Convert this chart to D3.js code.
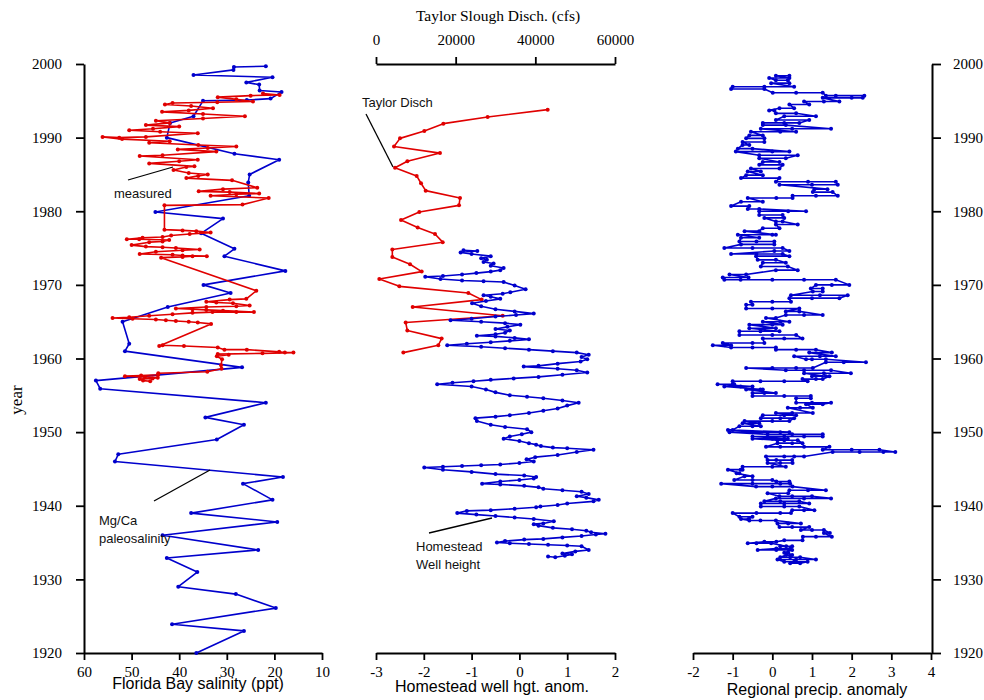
<!DOCTYPE html>
<html>
<head>
<meta charset="utf-8">
<script src="https://cdn.jsdelivr.net/npm/d3@7"></script>
<style>
  body { margin: 0; background: #fff; }
</style>
</head>
<body>
<div id="chart-container"></div>
<script>
// ---- data ----
const YEAR_TICKS = [1920, 1930, 1940, 1950, 1960, 1970, 1980, 1990, 2000];
const SAL_TICKS = [60, 50, 40, 30, 20, 10];
const WELL_TICKS = [-3, -2, -1, 0, 1, 2];
const PRECIP_TICKS = [-2, -1, 0, 1, 2, 3, 4];
const DISCH_TICKS = [0, 20000, 40000, 60000];

// Mg/Ca paleosalinity [year, ppt]
const paleoSal = [
  [1920.0,36.4],[1923.0,26.4],[1923.9,41.5],[1926.1,19.7],[1928.0,28.1],[1929.0,40.2],[1931.0,36.2],
  [1932.9,42.6],[1934.0,23.4],[1936.0,43.5],[1937.8,19.4],[1939.0,37.5],[1940.8,20.4],[1943.0,26.6],
  [1943.9,18.2],[1946.0,53.5],[1947.0,52.8],[1949.0,32.1],[1951.0,26.4],[1952.0,34.5],[1954.0,21.8],
  [1955.9,56.6],[1957.0,57.5],[1958.8,26.8],[1961.0,51.4],[1962.0,50.5],[1965.0,51.9],[1967.0,42.4],
  [1968.9,29.2],[1970.0,34.9],[1971.9,17.7],[1973.9,30.5],[1974.9,28.4],[1977.0,35.4],[1979.0,30.8],
  [1979.9,45.0],[1982.1,25.3],[1983.9,25.5],[1985.0,25.2],[1987.0,19.0],[1987.8,28.4],[1990.0,42.6],
  [1992.0,41.9],[1992.9,37.0],[1995.0,35.0],[1995.1,25.8],[1995.3,20.8],[1996.2,18.5],[1996.4,23.1],
  [1997.2,23.2],[1997.5,25.9],[1998.2,20.4],[1998.5,37.0],[1999.2,28.6],[1999.6,28.5],[1999.7,21.8]
];

// measured salinity [year, ppt]
const measSal = [
  [1956.9,46.1],[1957.0,47.6],[1957.2,48.3],[1957.3,45.6],[1957.4,44.5],[1957.5,47.2],[1957.6,51.4],
  [1957.7,48.0],[1957.8,44.4],[1958.0,44.4],[1958.2,34.1],[1958.6,31.1],[1959.1,31.2],[1959.9,31.0],
  [1960.3,32.1],[1960.5,29.6],[1960.6,31.9],[1960.7,22.5],[1960.8,16.0],[1960.8,17.8],[1960.9,19.0],
  [1961.2,25.8],[1961.2,30.5],[1961.5,31.9],[1961.7,39.0],[1961.8,43.5],[1961.7,44.2],[1964.7,33.3],
  [1964.9,36.1],[1965.0,38.0],[1965.1,40.7],[1965.2,42.8],[1965.3,44.9],[1965.4,49.8],[1965.5,54.0],
  [1965.6,50.5],[1965.8,46.3],[1966.0,41.4],[1966.2,37.2],[1966.3,33.0],[1966.3,28.0],[1966.3,24.3],
  [1966.5,30.8],[1966.6,34.3],[1966.7,37.2],[1966.8,40.7],[1967.0,34.3],[1967.1,28.0],[1967.2,25.2],
  [1967.5,28.7],[1967.6,32.2],[1967.7,34.3],[1968.0,29.4],[1968.1,25.9],[1969.2,23.8],
  [1973.7,43.8],[1973.8,39.3],[1973.9,37.2],[1973.9,34.2],[1974.0,39.3],[1974.1,41.4],[1974.2,48.3],
  [1974.5,44.9],[1974.7,39.3],[1974.8,35.7],[1975.0,40.7],[1975.1,43.5],[1975.2,47.0],[1975.4,50.0],
  [1975.8,46.3],[1975.9,43.5],[1976.1,42.1],[1976.2,48.4],[1976.2,51.0],[1976.4,47.7],[1976.5,43.5],
  [1976.7,41.7],[1976.9,37.8],[1977.1,33.4],[1977.3,36.4],[1977.4,39.3],[1977.5,43.1],[1980.8,43.1],
  [1980.9,26.7],[1981.8,21.2],[1982.1,33.4],[1982.3,28.0],[1982.4,23.2],[1982.6,29.4],[1982.7,35.9],
  [1983.0,30.8],[1983.2,23.6],[1984.2,28.9],[1984.5,38.5],[1984.8,36.0],[1985.0,34.0],[1985.2,38.0],
  [1985.6,41.2],[1986.0,38.5],[1986.1,36.8],[1986.5,46.3],[1986.8,40.0],[1987.0,36.1],[1987.5,48.3],
  [1987.6,43.5],[1988.1,32.2],[1988.4,40.3],[1988.6,34.0],[1988.8,28.0],[1989.0,36.0],[1989.3,46.3],
  [1989.5,42.0],[1989.8,52.0],[1990.1,56.1],[1990.0,52.6],[1990.1,47.0],[1990.6,36.1],[1990.8,44.0],
  [1991.0,50.5],[1991.2,45.5],[1991.5,40.0],[1991.7,47.0],[1992.0,42.0],[1992.3,44.9],[1992.6,35.0],
  [1992.9,26.2],[1993.2,35.0],[1993.5,43.6],[1993.7,38.0],[1994.0,32.9],[1994.3,37.5],[1994.5,43.0],
  [1994.7,41.4],[1994.8,32.0],[1994.9,24.5],[1995.2,28.0],[1995.5,31.9],[1995.7,25.0],[1995.8,18.9],
  [1996.0,22.4]
];

// Taylor Slough discharge [year, cfs]
const taylorDisch = [
  [1960.8,6860],[1961.8,15640],[1962.7,16480],[1963.8,7860],[1964.9,7450],[1965.8,31800],[1967.0,9210],
  [1968.0,26530],[1968.9,23180],[1969.8,5860],[1970.8,830],[1971.8,11470],[1972.8,8540],[1973.8,4100],
  [1974.8,4100],[1975.8,16740],[1976.9,14810],[1977.8,10460],[1978.8,6280],[1979.9,10880],[1980.8,20840],
  [1981.8,21090],[1982.8,12470],[1983.8,11300],[1984.8,10210],[1985.9,4770],[1986.8,7870],[1987.9,16060],
  [1988.8,4520],[1989.9,6030],[1990.9,12130],[1991.9,16900],[1992.8,28030],[1993.8,43100]
];

// Homestead well height anomaly [year, anomaly]
const wellHgt = [
  [1933.1,0.6],[1933.0,0.75],[1933.2,0.95],[1933.4,1.1],[1933.5,0.9],[1933.8,1.17],[1934.0,1.45],
  [1934.5,1.3],[1934.6,1.0],[1934.7,0.6],[1934.8,0.2],[1934.9,-0.2],[1935.0,-0.47],
  [1935.2,-0.3],[1935.4,0.1],[1935.5,0.5],[1935.7,0.9],[1935.9,1.3],[1936.1,1.6],[1936.2,1.8],
  [1936.4,1.5],[1936.6,1.4],[1936.8,1.1],[1937.0,0.7],[1937.3,0.4],[1937.5,0.3],[1937.6,0.5],
  [1937.9,0.72],[1938.2,0.3],[1938.4,-0.1],[1938.6,-0.5],[1938.8,-0.9],[1939.0,-1.3],
  [1939.3,-1.1],[1939.4,-0.6],[1939.6,-0.1],[1939.8,0.35],[1939.9,0.44],[1940.1,0.8],[1940.3,1.0],
  [1940.6,1.55],[1940.8,1.66],[1941.1,1.4],[1941.3,1.2],[1941.6,1.45],[1941.9,1.3],[1942.1,0.9],
  [1942.3,0.5],[1942.5,0.4],[1942.7,0.1],[1942.9,-0.4],[1943.0,-0.78],
  [1943.3,-0.4],[1943.5,0.0],[1943.7,0.3],[1943.9,0.35],[1944.1,0.1],[1944.3,-0.5],[1944.6,-1.0],
  [1944.9,-1.6],[1945.2,-1.99],
  [1945.3,-1.6],[1945.4,-1.2],[1945.5,-0.8],[1945.6,-0.4],[1945.8,0.0],[1946.0,0.3],[1946.3,0.15],
  [1946.6,0.33],[1946.9,0.8],[1947.3,1.2],[1947.6,1.55],
  [1947.8,1.0],[1947.9,0.7],[1948.1,0.45],[1948.3,0.35],[1948.5,0.2],[1948.8,0.0],[1949.1,-0.33],
  [1949.4,-0.2],[1949.7,0.05],[1950.0,0.25],[1950.4,0.16],[1950.7,-0.3],[1951.0,-0.6],[1951.5,-0.89],
  [1951.9,-0.92],
  [1952.1,-0.5],[1952.3,-0.2],[1952.6,0.2],[1952.9,0.5],[1953.2,0.8],[1953.6,1.0],[1954.0,1.24],
  [1954.3,0.9],[1954.6,0.5],[1954.8,0.16],[1955.0,-0.2],[1955.4,-0.5],[1955.8,-0.7],[1956.2,-1.0],
  [1956.5,-1.72],
  [1956.7,-1.4],[1956.9,-0.96],[1957.1,-0.6],[1957.3,-0.12],[1957.5,0.4],[1957.8,0.9],[1958.1,1.42],
  [1958.4,1.2],[1958.6,0.8],[1958.9,0.09],[1959.0,0.4],[1959.3,0.8],[1959.6,1.28],[1959.9,1.42],
  [1960.2,1.3],[1960.5,1.45],[1960.8,1.2],[1961.0,0.7],[1961.2,0.2],[1961.4,-0.3],[1961.6,-0.8],
  [1961.8,-1.51],
  [1962.0,-1.1],[1962.2,-0.6],[1962.4,-0.2],[1962.6,0.2],[1962.8,-0.1],[1963.0,-0.5],[1963.1,-0.89],
  [1963.3,-0.5],[1963.5,-0.3],[1963.8,-0.2],[1964.0,-0.5],[1964.3,-0.25],[1964.6,0.02],[1964.8,-0.3],
  [1965.0,-0.8],[1965.2,-1.44],[1965.4,-1.0],[1965.7,-0.5],[1965.9,-0.07],[1966.1,0.3],[1966.4,-0.1],
  [1966.7,-0.5],[1967.1,-0.8],[1967.5,-0.99],[1967.8,-0.7],[1968.1,-0.4],[1968.4,-0.6],[1968.6,-0.75],
  [1968.8,-0.35],[1969.0,-0.19],[1969.4,0.13],
  [1969.9,-0.1],[1970.4,-0.33],[1970.5,-0.75],[1970.6,-1.2],[1970.8,-1.65],[1971.1,-1.97],[1971.2,-1.6],
  [1971.4,-1.2],[1971.6,-0.9],[1971.8,-0.6],[1972.0,-0.4],[1972.3,-0.33],[1972.6,-0.6],[1972.9,-0.54],
  [1973.1,-0.75],[1973.4,-0.68],[1973.6,-0.8],[1973.9,-0.6],[1974.2,-1.0],[1974.4,-1.23],[1974.6,-0.88],
  [1974.7,-1.17]
];

// regional precip anomaly, one row per reading: [year, values...]
const precipRows = [
  [1932.2,.45,.7],[1932.4,.89,.55,.3],[1932.7,.13,.6,1.1],[1933.0,.7,.45,.2],[1933.3,.35,.5],
  [1933.6,.4,.3],[1934.0,.5,.1,-.37],[1934.2,.1,.45],[1934.5,.5,.2,.35],[1934.9,-.03,-.4,-.62],
  [1935.1,-.2,.1],[1935.3,.3,.76],[1935.8,.77,1.1,1.5],[1936.3,1.3,1.45],[1936.7,1.3,1.0,.72],
  [1937.1,.93,.5,.18],[1937.6,.13,.4,.72],[1938.0,.09,-.3,-.58],[1938.2,-.79,-.6],[1938.5,-.5,-.83],
  [1939.0,-1.0,-.4,.2,.47],[1939.4,.5,.8,1.06],[1939.9,.68,.3,-.29],[1940.3,-.29,.3,.93],
  [1940.6,.68,.2,-.2],[1941.0,.09,.8,1.48],[1941.3,1.0,.5,.18],[1941.7,-.12,.4],[1942.1,.43,.9,1.35],
  [1942.6,.51,0,-.41],[1943.0,-1.29,-.5,.2,.45],[1943.3,.43,.1],[1943.5,0,-.5,-.96],[1944.0,-.7,-.5],
  [1944.4,-.9,-.83],[1944.9,-1.12,-.8,-.75],[1945.3,-.75,0,.34],[1945.8,-.12,.2,.51],[1946.2,.5,.1,-.12],
  [1946.7,-.16,.3,.55,.8],[1947.3,1.52,2.2,2.8,3.1],[1947.6,2.7,2.0,1.27],[1948.0,1.44,.8,.2,-.16],
  [1948.5,.13,.5,.76],[1948.9,.64,.3,.13],[1949.1,-.5,0,.39],[1949.4,-.5,.3,.8,1.27],
  [1949.7,1.27,.5,-.12],[1950.0,-1.08,-.5,.2,.43],[1950.3,-1.12,-1.0],[1950.8,-.83,-.5,-.29],
  [1951.2,-.75,-.5,-.33],[1951.5,-.7,0,.43],[1951.9,.55,.2,-.29],[1952.3,-.24,.3,.6],[1952.6,.09,.5,1.02],
  [1953.3,.39,.7,1.02],[1953.8,.85,1.27],[1954.0,1.48,1.0,.6],[1954.6,.6,.97],[1954.9,.97,.3,-.5],
  [1955.3,-.5,-.2,.09],[1955.8,-.66,-.3,-.24],[1956.2,-1.21,-.8,-.5],[1956.5,-1.38,-1.0,-.96],
  [1956.9,-1.0,-.3,.3,.89],[1957.2,.76,1.1,1.27],[1957.6,1.44,1.0,1.35],[1958.0,.8,1.3,1.98],
  [1958.4,1.48,.8,.34],[1958.7,-.66,0,.6,1.02],[1959.5,1.35,1.8,2.36],[1959.9,1.35,1.0,.85],
  [1960.3,.55,1.2,1.6],[1960.8,.93,1.5],[1961.2,1.1,.6,.09],[1961.5,.09,-.5,-1.04],[1961.8,-1.5,-1.2,-1.04],
  [1962.1,-1.25,-.5,-.2],[1962.7,-.24,.3,.76],[1963.2,.6,0,-.83],[1963.7,-.83,-.3,.18],[1964.1,-.58,-.2,.09],
  [1964.6,-.58,0,.26],[1965.0,-.24,.2,.43],[1965.5,-.16,.09],[1965.9,.34,.8,1.27],[1966.4,.68,.34],
  [1966.8,.68,0,-.66],[1967.3,-.66,-.5],[1967.7,-.54,0,.47],[1968.2,.43,1.0,1.69],[1968.6,1.9,1.2,.47],
  [1969.1,1.02,1.27],[1969.5,1.27,.97],[1970.0,1.1,1.5,1.94],[1970.7,1.6,.8,0,-.8,-1.21],[1971.0,-1.25,-.6],
  [1971.4,-1.08,-.66],[1972.0,.09,.64],[1972.5,.39,-.29],[1973.0,-.24,.34],[1973.4,.09,-.37],
  [1973.9,-.41,.43],[1974.2,.26,-.4,-1.04],[1974.6,.05,.43],[1975.0,.26,-.5,-1.21],[1975.5,-.79,.05],
  [1975.9,.05,-.4,-.83],[1976.4,-.79,-.33],[1976.8,-.87,0,.09],[1977.3,-.7,-.33],[1977.7,-.24,.18],
  [1978.2,.09,.64],[1978.6,.26,.09],[1979.1,-.2,.3],[1979.5,.26,-.33],[1980.0,-.33,.4,.85],
  [1980.3,-.33,-.62],[1980.7,-.58,-1.04],[1981.3,-.79,-.24],[1981.8,-.62,.1,.51],[1982.1,.51,1.1,1.65],
  [1982.6,1.52,1.02],[1983.0,1.06,1.39],[1983.6,.18,1.0,1.65],[1984.0,1.6,.9,.09],[1984.5,.18,-.79],
  [1984.9,-.66,-.24],[1985.4,-.62,-.29],[1985.8,-.54,.18],[1986.3,.26,-.33],[1986.7,-.24,.18],
  [1987.2,-.33,.34],[1987.6,.64,-.33],[1988.1,-.92,0,.43],[1988.5,-.5,-.87],[1989.0,-.75,-.58],
  [1989.4,-.75,-.2],[1989.9,-.2,-.66],[1990.3,-.58,-.24],[1990.8,-.54,.2,.6],[1991.2,-.29,.5,1.48],
  [1991.7,.34,-.24],[1992.0,-.24,.3,.68],[1992.4,.93,.09],[1992.9,.3,1.1],[1993.3,.6,.09],
  [1993.7,.05,-.08],[1994.0,.18,.55],[1994.5,.43,.93],[1994.9,.8,1.3,1.69],[1995.4,1.27,2.0,2.28],
  [1995.7,2.32,1.6,1.35],[1996.1,1.27,.6,.01],[1996.6,-.2,-1.04],[1996.9,-1.0,-.2,.55],
  [1997.4,-.03,.43],[1997.8,.39,.09],[1998.1,-.08,.43],[1998.4,.09,.43]
];
const precip = precipRows.flatMap(([yr, ...vals]) => vals.map(v => [yr, v]));

// ---- chart ----
const RED = "#e00000";
const BLUE = "#0000cc";
const SERIF = "'Liberation Serif', 'Times New Roman', serif";
const SANS = "'Liberation Sans', Arial, sans-serif";

const svg = d3.select("#chart-container")
  .append("svg")
  .attr("width", 984)
  .attr("height", 700)
  .style("font-family", SERIF);

const y = d3.scaleLinear().domain([1920, 2000]).range([653, 64]);
const xSal = d3.scaleLinear().domain([60, 10]).range([84, 322]);
const xWell = d3.scaleLinear().domain([-3, 2]).range([376, 615]);
const xDisch = d3.scaleLinear().domain([0, 60000]).range([376, 615]);
const xPrecip = d3.scaleLinear().domain([-2, 4]).range([693, 931]);

// plain hyphen minus, like the original
const plain = d => String(d);

function styleAxis(g) {
  g.attr("font-family", SERIF);
  g.select(".domain").attr("stroke", "#000").attr("stroke-width", 2);
  g.selectAll(".tick line").attr("stroke", "#000").attr("stroke-width", 1.8);
  g.selectAll(".tick text").attr("fill", "#000").style("font-size", "15px").style("font-family", SERIF);
}

// year axes
svg.append("g")
  .attr("transform", "translate(84,0)")
  .call(d3.axisLeft(y).tickValues(YEAR_TICKS).tickFormat(plain)
    .tickSize(8).tickSizeOuter(0).tickPadding(14))
  .call(styleAxis);

svg.append("g")
  .attr("transform", "translate(932,0)")
  .call(d3.axisRight(y).tickValues(YEAR_TICKS).tickFormat(plain)
    .tickSize(9).tickSizeOuter(0).tickPadding(12))
  .call(styleAxis);

// bottom axes
svg.append("g")
  .attr("transform", "translate(0,653)")
  .call(d3.axisBottom(xSal).tickValues(SAL_TICKS).tickFormat(plain)
    .tickSize(7).tickSizeOuter(0).tickPadding(6))
  .call(styleAxis);

svg.append("g")
  .attr("transform", "translate(0,653)")
  .call(d3.axisBottom(xWell).tickValues(WELL_TICKS).tickFormat(plain)
    .tickSize(7).tickSizeOuter(0).tickPadding(6))
  .call(styleAxis);

svg.append("g")
  .attr("transform", "translate(0,653)")
  .call(d3.axisBottom(xPrecip).tickValues(PRECIP_TICKS).tickFormat(plain)
    .tickSize(7).tickSizeOuter(0).tickPadding(6))
  .call(styleAxis);

// top axis for discharge
svg.append("g")
  .attr("transform", "translate(0,64)")
  .call(d3.axisTop(xDisch).tickValues(DISCH_TICKS).tickFormat(plain)
    .tickSize(7).tickSizeOuter(0).tickPadding(12))
  .call(styleAxis);

// axis titles
svg.append("text")
  .attr("x", 498).attr("y", 21)
  .attr("text-anchor", "middle")
  .style("font-size", "15.5px")
  .text("Taylor Slough Disch. (cfs)");

svg.append("text")
  .attr("transform", "translate(22,400) rotate(-90)")
  .attr("text-anchor", "middle")
  .style("font-size", "17px")
  .text("year");

svg.append("text")
  .attr("x", 198).attr("y", 689)
  .attr("text-anchor", "middle")
  .style("font-family", SANS).style("font-size", "16px")
  .text("Florida Bay salinity (ppt)");

svg.append("text")
  .attr("x", 492).attr("y", 692)
  .attr("text-anchor", "middle")
  .style("font-family", SANS).style("font-size", "16px")
  .text("Homestead well hgt. anom.");

svg.append("text")
  .attr("x", 817).attr("y", 695)
  .attr("text-anchor", "middle")
  .style("font-family", SANS).style("font-size", "16px")
  .text("Regional precip. anomaly");

// series
function drawSeries(data, xScale, color) {
  const line = d3.line()
    .x(d => xScale(d[1]))
    .y(d => y(d[0]));
  svg.append("path")
    .datum(data)
    .attr("fill", "none")
    .attr("stroke", color)
    .attr("stroke-width", 1.6)
    .attr("stroke-linejoin", "round")
    .attr("d", line);
  svg.append("g")
    .selectAll("circle")
    .data(data)
    .join("circle")
    .attr("cx", d => xScale(d[1]))
    .attr("cy", d => y(d[0]))
    .attr("r", 2)
    .attr("fill", color);
}

drawSeries(paleoSal, xSal, BLUE);
drawSeries(measSal, xSal, RED);
drawSeries(taylorDisch, xDisch, RED);
drawSeries(wellHgt, xWell, BLUE);
drawSeries(precip, xPrecip, BLUE);

// annotations
const notes = [
  { lines: ["measured"], x: 114, y: 198, from: [128, 180], to: [173, 167] },
  { lines: ["Mg/Ca", "paleosalinity"], x: 99, y: 525, from: [154, 501], to: [210, 470] },
  { lines: ["Taylor Disch"], x: 362, y: 107, from: [366, 114], to: [393, 167] },
  { lines: ["Homestead", "Well height"], x: 416, y: 551, from: [429, 533], to: [492, 518] }
];

notes.forEach(n => {
  svg.append("line")
    .attr("x1", n.from[0]).attr("y1", n.from[1])
    .attr("x2", n.to[0]).attr("y2", n.to[1])
    .attr("stroke", "#000")
    .attr("stroke-width", 1.3);
  const t = svg.append("text")
    .attr("x", n.x).attr("y", n.y)
    .style("font-family", SANS)
    .style("font-size", "13px")
    .attr("fill", "#111");
  n.lines.forEach((s, i) => {
    t.append("tspan").attr("x", n.x).attr("dy", i === 0 ? 0 : 18).text(s);
  });
});
</script>
</body>
</html>
